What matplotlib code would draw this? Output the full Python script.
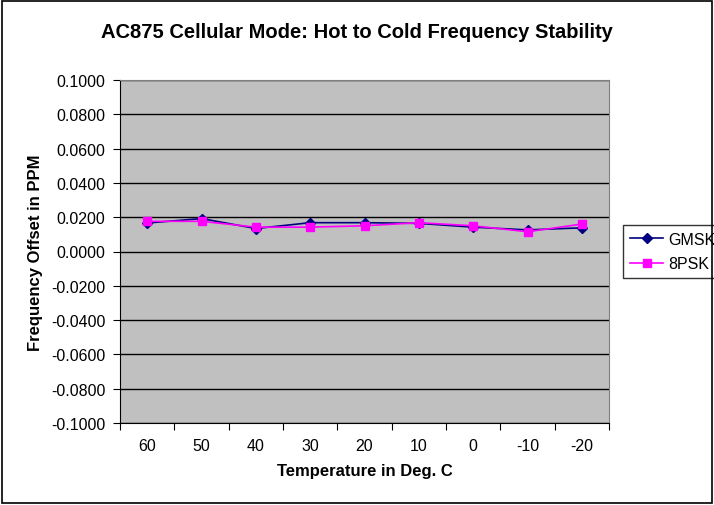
import numpy as np
import matplotlib
matplotlib.use("Agg")
import matplotlib.pyplot as plt
from matplotlib.patches import Rectangle

plt.rcParams['font.family'] = ['Liberation Sans', 'DejaVu Sans']

temps = ["60", "50", "40", "30", "20", "10", "0", "-10", "-20"]
gmsk = [0.0166, 0.0192, 0.0134, 0.0168, 0.0168, 0.0164, 0.0142, 0.0126, 0.0138]
psk8 = [0.0176, 0.0176, 0.0142, 0.0142, 0.0150, 0.0168, 0.0150, 0.0115, 0.0160]

fig = plt.figure(figsize=(7.14, 5.06), dpi=100)
fig.patches.append(Rectangle((0.003, 0.003), 0.994, 0.994, transform=fig.transFigure,
                             fill=False, edgecolor="black", linewidth=1.2))

ax = fig.add_axes([120 / 714, 1 - 424 / 506, 489 / 714, 343 / 506])
ax.set_facecolor("#C0C0C0")

x = np.arange(len(temps))
ax.plot(x, gmsk, color="#000080", marker="D", markersize=5, linewidth=1.2, label="GMSK")
ax.plot(x, psk8, color="#FF00FF", marker="s", markersize=6, linewidth=1.2, label="8PSK")

ax.set_xlim(-0.5, len(temps) - 0.5)
ax.set_ylim(-0.1, 0.1)
yt = np.linspace(-0.1, 0.1, 11)
ax.set_yticks(yt)
ax.set_yticklabels([f"{v:.4f}" for v in yt], fontsize=11.5)
ax.yaxis.grid(True, color="black", linewidth=1)
ax.set_axisbelow(True)

# category labels centred, ticks on the boundaries
ax.set_xticks(np.arange(len(temps) + 1) - 0.5)
ax.set_xticklabels([])
ax.set_xticks(x, minor=True)
ax.set_xticklabels(temps, minor=True, fontsize=11.5)
ax.tick_params(axis="x", which="minor", length=0, pad=11)
ax.tick_params(axis="x", which="major", length=5, direction="out")
ax.tick_params(axis="y", length=5, direction="out", pad=5.5)

for side in ["top", "right"]:
    ax.spines[side].set_color("#808080")
for side in ["left", "bottom"]:
    ax.spines[side].set_color("black")

ax.set_xlabel("Temperature in Deg. C", fontsize=12, fontweight="bold", labelpad=7)
ax.set_ylabel("Frequency Offset in PPM", fontsize=12, fontweight="bold", labelpad=6)
fig.suptitle("AC875 Cellular Mode: Hot to Cold Frequency Stability",
             fontsize=14.5, fontweight="bold", y=0.955)

leg = ax.legend(loc="center left", bbox_to_anchor=(1.028, 0.5), borderaxespad=0,
                fontsize=11.5, frameon=True, fancybox=False, edgecolor="black",
                handlelength=2.1, handletextpad=0.3, borderpad=0.45, labelspacing=0.6)
leg.get_frame().set_linewidth(1)

fig.savefig("out.png", dpi=100)
